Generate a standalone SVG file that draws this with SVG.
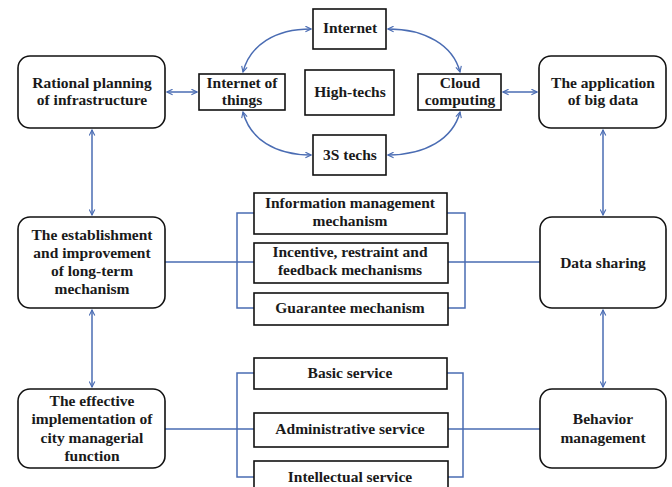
<svg xmlns="http://www.w3.org/2000/svg" width="672" height="487" viewBox="0 0 672 487">
<defs>
<marker id="ah" viewBox="0 0 10 10" refX="9" refY="5" markerWidth="7" markerHeight="7" markerUnits="userSpaceOnUse" orient="auto-start-reverse">
<path d="M1,1 L9,5 L1,9" fill="none" stroke="#4a6cb3" stroke-width="1.6"/>
</marker>
<style>
.box{fill:#fff;stroke:#111;stroke-width:1.6}
.t{font-family:"Liberation Serif",serif;font-weight:bold;font-size:15.5px;fill:#1a1a1a;text-anchor:middle}
.c{fill:none;stroke:#4a6cb3;stroke-width:1.5}
.a{marker-start:url(#ah);marker-end:url(#ah)}
</style>
</defs>
<rect width="672" height="487" fill="#fff"/>
<g id="connectors">
<path class="c a" d="M167,92 L197,92"/>
<path class="c a" d="M503,92 L537,92"/>
<path class="c a" d="M243,72 C250,45 275,29 311,29"/>
<path class="c a" d="M388,29 C425,29 453,45 460,72"/>
<path class="c a" d="M243,112 C250,139 275,155 311,155"/>
<path class="c a" d="M460,112 C453,139 425,155 388,155"/>
<path class="c a" d="M92,130 L92,215"/>
<path class="c a" d="M92,310 L92,387"/>
<path class="c a" d="M603,130 L603,215"/>
<path class="c a" d="M603,310 L603,387"/>
<path class="c" d="M165,262 L254,262 M254,213 L237,213 L237,308 L254,308"/>
<path class="c" d="M447,213 L465,213 L465,308 L447,308 M448,262 L540,262"/>
<path class="c" d="M165,429 L254,429 M254,373 L237,373 L237,477 L254,477"/>
<path class="c" d="M447,373 L463,373 L463,477 L447,477 M448,429 L540,429"/>
</g>
<g id="rational"><rect class="box" x="18" y="56" width="147" height="72" rx="12"/><text class="t" x="92" y="88">Rational planning</text><text class="t" x="92" y="105">of infrastructure</text></g>
<g id="iot"><rect class="box" x="199" y="74" width="86" height="36"/><text class="t" x="242" y="88">Internet of</text><text class="t" x="242" y="105">things</text></g>
<g id="internet"><rect class="box" x="313" y="9" width="73" height="40"/><text class="t" x="350" y="33">Internet</text></g>
<g id="hightechs"><rect class="box" x="305" y="70" width="89" height="45"/><text class="t" x="350" y="97">High-techs</text></g>
<g id="3s"><rect class="box" x="313" y="135" width="73" height="40"/><text class="t" x="350" y="160">3S techs</text></g>
<g id="cloud"><rect class="box" x="418" y="74" width="83" height="36"/><text class="t" x="460" y="88">Cloud</text><text class="t" x="460" y="105">computing</text></g>
<g id="bigdata"><rect class="box" x="539" y="56" width="127" height="72" rx="12"/><text class="t" x="603" y="88">The application</text><text class="t" x="603" y="105">of big data</text></g>
<g id="establishment"><rect class="box" x="18" y="217" width="147" height="91" rx="12"/><text class="t" x="92" y="240">The establishment</text><text class="t" x="92" y="258">and improvement</text><text class="t" x="92" y="276">of long-term</text><text class="t" x="92" y="294">mechanism</text></g>
<g id="infomgmt"><rect class="box" x="254" y="193" width="193" height="41"/><text class="t" x="350" y="208">Information management</text><text class="t" x="350" y="226">mechanism</text></g>
<g id="incentive"><rect class="box" x="254" y="243" width="194" height="40"/><text class="t" x="350" y="257">Incentive, restraint and</text><text class="t" x="350" y="275">feedback mechanisms</text></g>
<g id="guarantee"><rect class="box" x="254" y="293" width="194" height="32"/><text class="t" x="350" y="313">Guarantee mechanism</text></g>
<g id="datasharing"><rect class="box" x="540" y="217" width="126" height="91" rx="12"/><text class="t" x="603" y="268">Data sharing</text></g>
<g id="effective"><rect class="box" x="18" y="389" width="147" height="79" rx="12"/><text class="t" x="92" y="406">The effective</text><text class="t" x="92" y="424">implementation of</text><text class="t" x="92" y="443">city managerial</text><text class="t" x="92" y="461">function</text></g>
<g id="basic"><rect class="box" x="254" y="358" width="193" height="31"/><text class="t" x="350" y="378">Basic service</text></g>
<g id="admin"><rect class="box" x="254" y="413" width="194" height="34"/><text class="t" x="350" y="434">Administrative service</text></g>
<g id="intellectual"><rect class="box" x="254" y="461" width="194" height="34"/><text class="t" x="350" y="482">Intellectual service</text></g>
<g id="behavior"><rect class="box" x="540" y="389" width="126" height="79" rx="12"/><text class="t" x="603" y="424">Behavior</text><text class="t" x="603" y="443">management</text></g>
</svg>
